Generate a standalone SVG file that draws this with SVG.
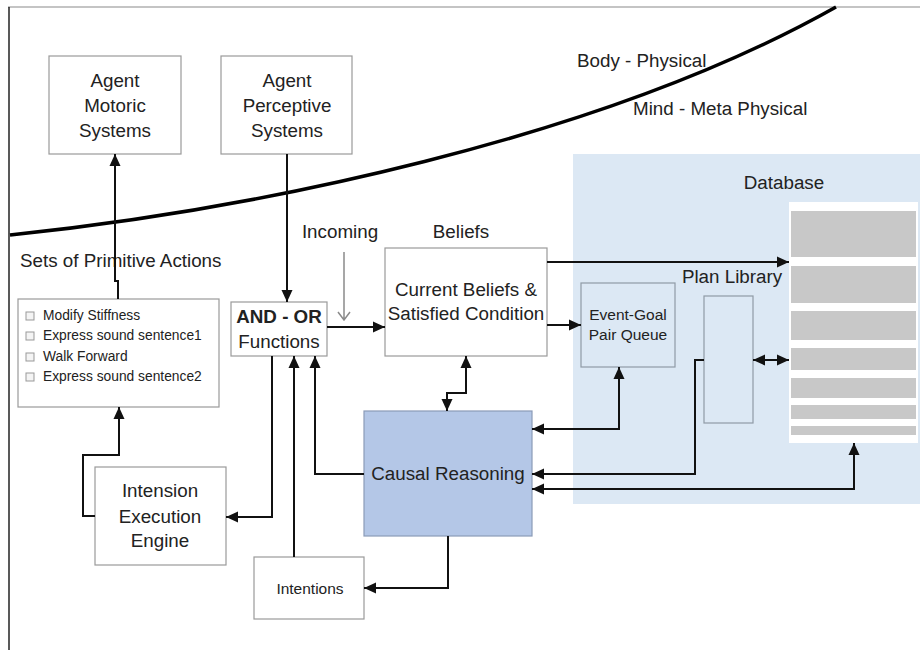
<svg xmlns="http://www.w3.org/2000/svg" width="920" height="653" viewBox="0 0 920 653">
<style>
text{font-family:"Liberation Sans",Arial,sans-serif;font-size:18.8px;fill:#222}
.box{fill:#fff;stroke:#9a9a9a;stroke-width:1.2}
.lb{fill:#dce8f4;stroke:#8f9aa5;stroke-width:1.2}
.bar{fill:#c8c8c8}
.c{fill:none;stroke:#111;stroke-width:2}
.sm{font-size:13.8px}
.md{font-size:15.5px}
.chk{fill:#f4f4f4;stroke:#999;stroke-width:1}
</style>
<defs>
<marker id="a" markerUnits="userSpaceOnUse" markerWidth="13" markerHeight="13" refX="12" refY="6.5" orient="auto-start-reverse" viewBox="0 0 13 13">
<path d="M0,1 L12,6.5 L0,12 z" fill="#111"/>
</marker>
</defs>
<g id="frame">
<line x1="8" y1="7" x2="920" y2="7" stroke="#b0b0b0" stroke-width="1.5"/>
<line x1="9" y1="7" x2="9" y2="650" stroke="#222" stroke-width="1.5"/>
<path d="M10,235 C250,210 600,140 836,7" fill="none" stroke="#000" stroke-width="3.5"/>
<text x="577" y="67">Body - Physical</text>
<text x="633" y="115">Mind - Meta Physical</text>
</g>
<g id="database">
<rect x="573" y="154" width="347" height="350" fill="#dce8f4"/>
<text x="784" y="189" text-anchor="middle">Database</text>
<rect x="789" y="202" width="129" height="241" fill="#fff"/>
<rect class="bar" x="791" y="211" width="125" height="46"/>
<rect class="bar" x="791" y="266" width="125" height="37"/>
<rect class="bar" x="791" y="311" width="125" height="29"/>
<rect class="bar" x="791" y="348" width="125" height="22"/>
<rect class="bar" x="791" y="378" width="125" height="20"/>
<rect class="bar" x="791" y="405" width="125" height="14"/>
<rect class="bar" x="791" y="426" width="125" height="9"/>
</g>
<g id="motoric">
<rect class="box" x="49" y="56" width="132" height="98"/>
<text x="115" y="87" text-anchor="middle">Agent</text>
<text x="115" y="112" text-anchor="middle">Motoric</text>
<text x="115" y="137" text-anchor="middle">Systems</text>
</g>
<g id="perceptive">
<rect class="box" x="221" y="56" width="131" height="98"/>
<text x="287" y="87" text-anchor="middle">Agent</text>
<text x="287" y="112" text-anchor="middle">Perceptive</text>
<text x="287" y="137" text-anchor="middle">Systems</text>
</g>
<g id="primitive">
<text x="20" y="267">Sets of Primitive Actions</text>
<rect class="box" x="18" y="299" width="201" height="108"/>
<rect class="chk" x="26" y="312" width="8" height="8"/>
<rect class="chk" x="26" y="332" width="8" height="8"/>
<rect class="chk" x="26" y="353" width="8" height="8"/>
<rect class="chk" x="26" y="373" width="8" height="8"/>
<text class="sm" x="43" y="320">Modify Stiffness</text>
<text class="sm" x="43" y="340">Express sound sentence1</text>
<text class="sm" x="43" y="361">Walk Forward</text>
<text class="sm" x="43" y="381">Express sound sentence2</text>
</g>
<g id="andor">
<rect class="box" x="231" y="302" width="96" height="54"/>
<text x="279" y="323" text-anchor="middle" font-weight="bold" font-size="18px">AND - OR</text>
<text x="279" y="348" text-anchor="middle">Functions</text>
</g>
<g id="beliefs">
<text x="340" y="238" text-anchor="middle">Incoming</text>
<text x="461" y="238" text-anchor="middle">Beliefs</text>
<rect class="box" x="385" y="248" width="162" height="108"/>
<text x="466" y="296" text-anchor="middle">Current Beliefs &amp;</text>
<text x="466" y="320" text-anchor="middle">Satisfied Condition</text>
</g>
<g id="eventgoal">
<rect class="lb" x="581" y="283" width="94" height="84"/>
<text class="md" x="628" y="320" text-anchor="middle">Event-Goal</text>
<text class="md" x="628" y="340" text-anchor="middle">Pair Queue</text>
</g>
<g id="planlibrary">
<text x="732" y="283" text-anchor="middle">Plan Library</text>
<rect class="lb" x="704" y="296" width="49" height="127"/>
</g>
<g id="causal">
<rect x="364" y="411" width="168" height="125" fill="#b4c7e7" stroke="#8b9bb8" stroke-width="1.2"/>
<text x="448" y="480" text-anchor="middle">Causal Reasoning</text>
</g>
<g id="intension">
<rect class="box" x="95" y="467" width="131" height="98"/>
<text x="160" y="497" text-anchor="middle">Intension</text>
<text x="160" y="523" text-anchor="middle">Execution</text>
<text x="160" y="547" text-anchor="middle">Engine</text>
</g>
<g id="intentions">
<rect class="box" x="254" y="557" width="110" height="62"/>
<text class="md" x="310" y="594" text-anchor="middle">Intentions</text>
</g>
<g id="connectors">
<path class="c" d="M118,299 V281 H115 V154" marker-end="url(#a)"/>
<path class="c" d="M287,154 V302" marker-end="url(#a)"/>
<path class="c" d="M327,327 H385" marker-end="url(#a)"/>
<path class="c" d="M547,262 H789" marker-end="url(#a)"/>
<path class="c" d="M547,325 H581" marker-end="url(#a)"/>
<path class="c" d="M753,360 H789" marker-start="url(#a)" marker-end="url(#a)"/>
<path class="c" d="M532,429 H619 V367" marker-start="url(#a)" marker-end="url(#a)"/>
<path class="c" d="M704,360 H695 V474 H532" marker-end="url(#a)"/>
<path class="c" d="M532,489 H854 V443" marker-start="url(#a)" marker-end="url(#a)"/>
<path class="c" d="M466,356 V393 H447 V411" marker-start="url(#a)" marker-end="url(#a)"/>
<path class="c" d="M364,474 H315 V356" marker-end="url(#a)"/>
<path class="c" d="M294,557 V356" marker-end="url(#a)"/>
<path class="c" d="M272,356 V517 H226" marker-end="url(#a)"/>
<path class="c" d="M95,516 H83 V455 H119 V407" marker-end="url(#a)"/>
<path class="c" d="M448,536 V588 H364" marker-end="url(#a)"/>
<path d="M344,252 V320 M338,312 L344,320 L350,312" fill="none" stroke="#8a8a8a" stroke-width="1.5"/>
</g>
</svg>
